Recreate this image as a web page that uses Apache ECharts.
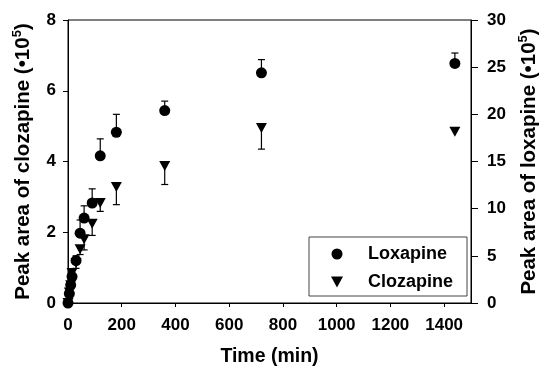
<!DOCTYPE html>
<html>
<head>
<meta charset="utf-8">
<script src="https://cdn.jsdelivr.net/npm/echarts@6/dist/echarts.min.js"></script>
<style>
  html, body { margin: 0; padding: 0; background: #fff; }
  #chart { width: 542px; height: 368px; }
</style>
</head>
<body>
<div id="chart"></div>
<script>
// sampling times (min)
var times = [0, 5, 10, 15, 30, 45, 60, 90, 120, 180, 360, 720, 1440];
// loxapine, right axis (x10^5), error drawn upward
var loxapine = [0, 1.0, 1.9, 2.8, 4.5, 7.4, 9.0, 10.6, 15.6, 18.1, 20.4, 24.4, 25.4];
var loxapineErr = [0, 0, 0.2, 0.3, 0.5, 1.4, 1.3, 1.5, 1.8, 1.9, 1.0, 1.4, 1.1];
// clozapine, left axis (x10^5), error drawn downward
var clozapine = [0, 0.3, 0.5, 0.85, 1.13, 1.52, 1.8, 2.24, 2.83, 3.28, 3.87, 4.95, 4.84];
var clozapineErr = [0, 0, 0.1, 0.1, 0.15, 0.15, 0.3, 0.33, 0.24, 0.5, 0.52, 0.6, 0];

var xTicks = [0, 1500, 200];
var leftTicks = [0, 8, 2];
var rightTicks = [0, 30, 5];

var FONT = '"Liberation Sans", Arial, sans-serif';
var TRI = 'path://M0,0 L10,0 L5,9 Z';

function pts (ys) {
  return times.map(function (t, i) { return [t, ys[i]]; });
}
function errPts (ys, es, dir) {
  return times.map(function (t, i) { return [t, ys[i], es[i] * dir]; });
}

// error bar with a small cap
function errBar (params, api) {
  var x = api.value(0), y = api.value(1), e = api.value(2);
  if (!e) return;
  var p0 = api.coord([x, y]);
  var p1 = api.coord([x, y + e]);
  var style = { stroke: '#000', lineWidth: 1.2 };
  return {
    type: 'group',
    children: [
      { type: 'line', shape: { x1: p0[0], y1: p0[1], x2: p1[0], y2: p1[1] }, style: style },
      { type: 'line', shape: { x1: p1[0] - 3.5, y1: p1[1], x2: p1[0] + 3.5, y2: p1[1] }, style: style }
    ]
  };
}

var axisCommon = {
  axisLine: { show: true, lineStyle: { color: '#000', width: 1 } },
  splitLine: { show: false },
  axisLabel: { color: '#000', fontFamily: FONT, fontWeight: 'bold', fontSize: 17 },
  nameTextStyle: { color: '#000', fontFamily: FONT, fontWeight: 'bold', fontSize: 19.5 }
};

function titleRich () {
  return {
    a: { fontFamily: FONT, fontWeight: 'bold', fontSize: 20.5, color: '#000', lineHeight: 24 },
    s: { fontFamily: FONT, fontWeight: 'bold', fontSize: 13, color: '#000', lineHeight: 24, verticalAlign: 'top', padding: [0, 0, 10, 0] }
  };
}

var chart = echarts.init(document.getElementById('chart'), null, { renderer: 'canvas' });

var option = {
  animation: false,
  backgroundColor: '#fff',
  grid: {
    left: 68, right: 71, top: 20, bottom: 65,
    outerBoundsMode: 'none', containLabel: false,
    show: true, borderColor: '#000', borderWidth: 1, backgroundColor: 'transparent'
  },
  legend: {
    orient: 'vertical',
    left: 309, top: 237,
    padding: [8, 14, 5, 22],
    borderColor: '#444', borderWidth: 1,
    itemWidth: 12, itemHeight: 11, itemGap: 10,
    textStyle: { color: '#000', fontFamily: FONT, fontWeight: 'bold', fontSize: 18, padding: [0, 0, 0, 20] },
    data: [
      { name: 'Loxapine', icon: 'circle' },
      { name: 'Clozapine', icon: TRI }
    ]
  },
  xAxis: Object.assign({}, axisCommon, {
    type: 'value',
    min: xTicks[0], max: xTicks[1], interval: xTicks[2],
    name: 'Time (min)', nameLocation: 'middle', nameGap: 44,
    axisTick: { show: true, inside: false, length: 4, lineStyle: { color: '#000' } },
    axisLabel: Object.assign({}, axisCommon.axisLabel, {
      margin: 14, showMaxLabel: false,
      formatter: function (v) { return v > 1400 ? '' : String(v); }
    })
  }),
  yAxis: [
    Object.assign({}, axisCommon, {
      type: 'value', position: 'left',
      min: leftTicks[0], max: leftTicks[1], interval: leftTicks[2],
      name: '{a|Peak area of clozapine (•10}{s|5}{a|)}',
      nameLocation: 'middle', nameGap: 33, nameRotate: 90,
      nameTextStyle: { rich: titleRich() },
      axisTick: { show: true, inside: false, length: 5, lineStyle: { color: '#000' } },
      axisLabel: Object.assign({}, axisCommon.axisLabel, { margin: 12 })
    }),
    Object.assign({}, axisCommon, {
      type: 'value', position: 'right',
      min: rightTicks[0], max: rightTicks[1], interval: rightTicks[2],
      name: '{a|Peak area of loxapine (•10}{s|5}{a|)}',
      nameLocation: 'middle', nameGap: 46, nameRotate: 90,
      nameTextStyle: { rich: titleRich() },
      axisTick: { show: true, inside: false, length: 7, lineStyle: { color: '#000' } },
      axisLabel: Object.assign({}, axisCommon.axisLabel, { margin: 16 })
    })
  ],
  series: [
    {
      name: 'LoxErr', type: 'custom', yAxisIndex: 1, z: 1,
      renderItem: errBar, data: errPts(loxapine, loxapineErr, 1), silent: true
    },
    {
      name: 'CloErr', type: 'custom', yAxisIndex: 0, z: 1,
      renderItem: errBar, data: errPts(clozapine, clozapineErr, -1), silent: true
    },
    {
      name: 'Clozapine', type: 'scatter', yAxisIndex: 0, z: 2,
      symbol: TRI, symbolSize: [11, 10],
      itemStyle: { color: '#000', opacity: 1 },
      data: pts(clozapine)
    },
    {
      name: 'Loxapine', type: 'scatter', yAxisIndex: 1, z: 3,
      symbol: 'circle', symbolSize: 11,
      itemStyle: { color: '#000', opacity: 1 },
      data: pts(loxapine)
    }
  ]
};

chart.setOption(option);
window.addEventListener('resize', function () { chart.resize(); });
</script>
</body>
</html>
